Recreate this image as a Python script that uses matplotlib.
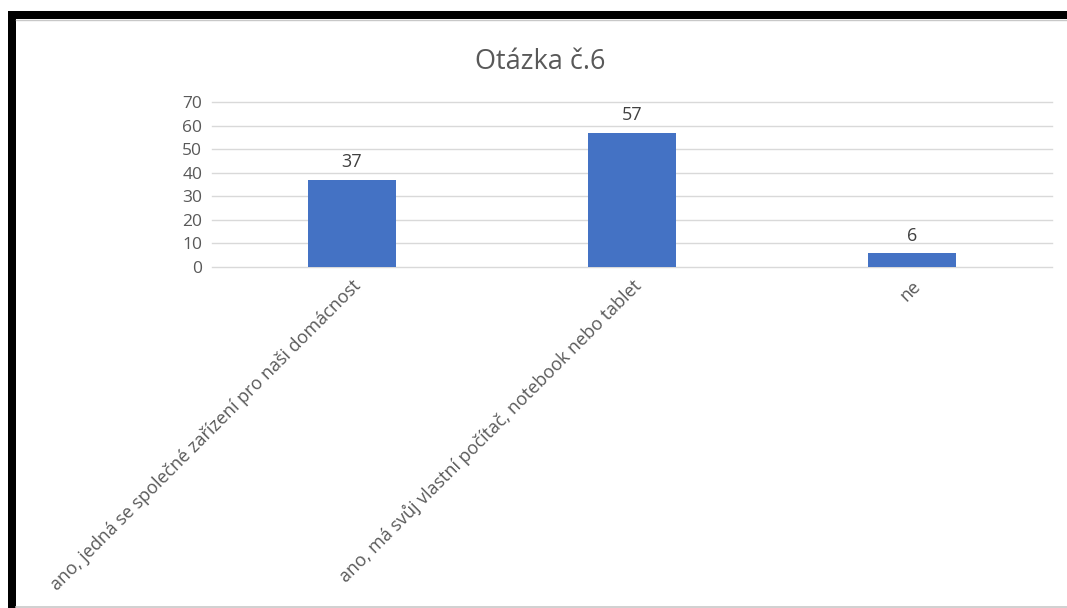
import matplotlib
matplotlib.use("Agg")
import matplotlib.pyplot as plt
from matplotlib.patches import Rectangle
from matplotlib.lines import Line2D

categories = [
    "ano, jedná se společné zařízení pro naši domácnost",
    "ano, má svůj vlastní počítač, notebook nebo tablet",
    "ne",
]
counts = [37, 57, 6]
y_ticks = [0, 10, 20, 30, 40, 50, 60, 70]

TEXT_COLOR = "#595959"
BAR_COLOR = "#4472C4"
GRID_COLOR = "#D9D9D9"

plt.rcParams["font.family"] = ["Open Sans", "DejaVu Sans"]

W, H = 1067, 608
fig = plt.figure(figsize=(W / 100, H / 100), dpi=100)
ax = fig.add_axes([212 / W, 1 - 267 / H, (1052 - 212) / W, (267 - 102) / H])

x = list(range(len(categories)))
bars = ax.bar(x, counts, width=0.315, color=BAR_COLOR, zorder=3)
for bar, val in zip(bars, counts):
    ax.annotate(str(val), (bar.get_x() + bar.get_width() / 2, bar.get_height()),
                xytext=(0, 6), textcoords="offset points", ha="center", va="bottom",
                fontsize=13, color="#404040")

ax.set_xlim(-0.5, len(categories) - 0.5)
ax.set_ylim(0, 70)
ax.set_yticks(y_ticks)
ax.yaxis.grid(True, color=GRID_COLOR, linewidth=1)
for gl in ax.get_ygridlines():
    gl.set_clip_on(False)
ax.set_axisbelow(True)
for s in ax.spines.values():
    s.set_visible(False)
ax.tick_params(axis="both", length=0, colors=TEXT_COLOR, labelsize=12.5)
ax.tick_params(axis="y", pad=7)
ax.set_xticks(x)
ax.set_xticklabels(categories, rotation=45, ha="right", va="top",
                   rotation_mode="anchor", fontsize=13, color=TEXT_COLOR)
ax.tick_params(axis="x", pad=7)

fig.text(540 / W, 1 - 62 / H, "Otázka č.6", ha="center", va="center",
         fontsize=19.5, color=TEXT_COLOR)

# frame around the screenshot
fig.add_artist(Rectangle((8 / W, 1 - 19 / H), 1 - 8 / W, 8 / H,
                         transform=fig.transFigure, color="black", lw=0))
fig.add_artist(Rectangle((8 / W, 0), 8 / W, 1 - 11 / H,
                         transform=fig.transFigure, color="black", lw=0))
fig.add_artist(Line2D([16 / W, 1], [1 - 20 / H, 1 - 20 / H],
                      transform=fig.transFigure, color="#C8C8C8", lw=1))
fig.add_artist(Line2D([16 / W, 1], [1 - 606.5 / H, 1 - 606.5 / H],
                      transform=fig.transFigure, color="#C8C8C8", lw=1.2))

fig.savefig("out.png", dpi=100)
